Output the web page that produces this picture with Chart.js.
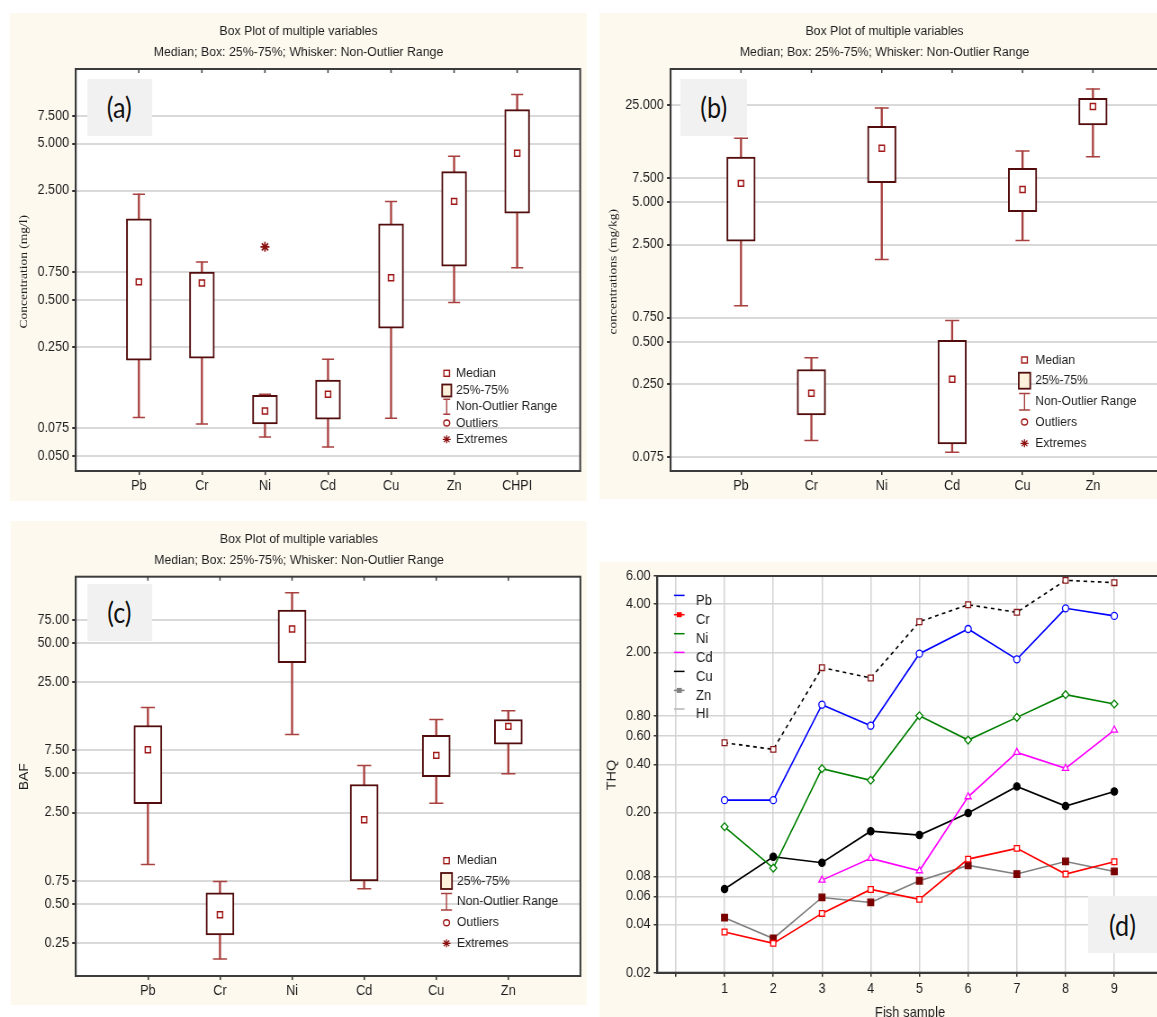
<!DOCTYPE html>
<html><head><meta charset="utf-8"><title>Box plots and THQ</title>
<script src="https://cdn.jsdelivr.net/npm/chart.js"></script>
<style>
html,body{margin:0;padding:0;background:#fff;overflow:hidden;width:1157px;height:1017px;}
#wrap{position:absolute;left:0;top:0;width:1320px;height:1017px;transform:scaleX(0.9);transform-origin:0 0;}
.panel{position:absolute;background:#fdf9ef;}
.tag{position:absolute;background:#f1f1f1;font-family:Lato,"Open Sans",sans-serif;font-size:28px;color:#111;display:flex;align-items:center;justify-content:center;}
canvas{position:absolute;left:0;top:0;}
</style></head>
<body><div id="wrap"></div>
<script>
// ---------------- DATA ----------------
// (a) Concentration (mg/l)
const catsA = ['Pb','Cr','Ni','Cd','Cu','Zn','CHPI'];
const minA  = [0.088, 0.080, 0.066, 0.057, 0.087, 0.48, 0.80];
const q1A   = [0.205, 0.211, 0.080, 0.086, 0.328, 0.82, 1.79];
const medA  = [0.65,  0.64,  0.097, 0.124, 0.69,  2.13, 4.33];
const q3A   = [1.65,  0.75,  0.122, 0.153, 1.53,  3.30, 8.24];
const maxA  = [2.37,  0.87,  0.124, 0.208, 2.13,  4.14, 10.3];
const extA  = [null,  null,  1.09,  null,  null,  null, null];
const ticksA = [0.05, 0.075, 0.25, 0.5, 0.75, 2.5, 5, 7.5];

// (b) concentrations (mg/kg)
const catsB = ['Pb','Cr','Ni','Cd','Cu','Zn'];
const minB  = [0.911, 0.099, 1.95, 0.0817, 2.67, 10.6];
const q1B   = [2.64,  0.151, 6.92, 0.0938, 4.29, 17.9];
const medB  = [6.84,  0.216, 12.2, 0.272,  6.19, 24.3];
const q3B   = [10.55, 0.319, 17.5, 0.515,  8.76, 27.8];
const maxB  = [14.4,  0.387, 23.7, 0.716,  11.65, 32.4];
const extB  = [null, null, null, null, null, null];
const ticksB = [0.075, 0.25, 0.5, 0.75, 2.5, 5, 7.5, 25];

// (c) BAF
const catsC = ['Pb','Cr','Ni','Cd','Cu','Zn'];
const minC  = [1.0,   0.189, 9.92,  0.651, 2.95, 4.95];
const q1C   = [2.92,  0.289, 35.1,  0.75,  4.70, 8.36];
const medC  = [7.57,  0.412, 63.6,  2.2,   6.85, 11.42];
const q3C   = [11.6,  0.607, 88.9,  4.10,  9.74, 12.9];
const maxC  = [15.97, 0.741, 120.8, 5.74,  12.9, 15.06];
const extC  = [null, null, null, null, null, null];
const ticksC = [0.25, 0.5, 0.75, 2.5, 5, 7.5, 25, 50, 75];

// (d) THQ per fish sample
const samples = [1,2,3,4,5,6,7,8,9];
const seriesD = ['Pb','Cr','Ni','Cd','Cu','Zn','HI'];
const thqPb = [0.239, 0.239, 0.943, 0.697, 1.964, 2.80, 1.81, 3.77, 3.38];
const thqCr = [0.0359, 0.0305, 0.0469, 0.0662, 0.0574, 0.1024, 0.1195, 0.0826, 0.0986];
const thqNi = [0.163, 0.090, 0.376, 0.318, 0.805, 0.567, 0.786, 1.089, 0.952];
const thqCd = [null, null, 0.0757, 0.1035, 0.0866, 0.251, 0.475, 0.378, 0.655];
const thqCu = [0.0666, 0.106, 0.0972, 0.153, 0.1447, 0.1986, 0.291, 0.2196, 0.271];
const thqZn = [0.0441, 0.0327, 0.059, 0.0549, 0.075, 0.0935, 0.0826, 0.099, 0.0858];
const thqHI = [0.546, 0.496, 1.606, 1.384, 3.11, 3.97, 3.56, 5.64, 5.45];
const ticksD = [0.02, 0.04, 0.06, 0.08, 0.2, 0.4, 0.6, 0.8, 2, 4, 6];
const xTicksD = [0,1,2,3,4,5,6,7,8,9,10];

const TITLE1 = 'Box Plot of multiple variables';
const TITLE2 = 'Median; Box: 25%-75%; Whisker: Non-Outlier Range';
const BOX_LEGEND = ['Median','25%-75%','Non-Outlier Range','Outliers','Extremes'];

// ---------------- LAYOUT / STYLE ----------------
const SANS = '"Liberation Sans", Arial, Helvetica, sans-serif';
const SERIF = '"Liberation Serif", "Times New Roman", serif';
const TXT = '#1e1e1e';
const BOXC = '#520c0c', WHIS = '#a8403f', MEDC = '#a01818', EXTC = '#8b1010';
const SX = 0.9, CW = 1320, CH = 1017, AXW = 70, XAH = 30;
const ux = v => v / SX;
const wrap = document.getElementById('wrap');

function addDiv(cls, r, text) {
  const d = document.createElement('div');
  d.className = cls;
  d.style.left = ux(r[0]) + 'px'; d.style.top = r[1] + 'px';
  d.style.width = ux(r[2] - r[0]) + 'px'; d.style.height = (r[3] - r[1]) + 'px';
  if (text) d.textContent = text;
  wrap.appendChild(d);
  return d;
}
function makeCanvas() {
  const c = document.createElement('canvas');
  c.width = CW; c.height = CH;
  c.style.width = CW + 'px'; c.style.height = CH + 'px';
  wrap.appendChild(c);
  return c;
}

addDiv('panel', [10, 13, 587, 501]);
addDiv('panel', [599, 13, 1175, 499]);
addDiv('panel', [11, 521, 587, 1005]);
addDiv('panel', [599, 562, 1175, 1017]);

function drawBoxLegend(ctx, L) {
  const mx = ux(L.mx), ys = L.ys;
  ctx.font = `13.5px ${SANS}`; ctx.textAlign = 'left'; ctx.textBaseline = 'middle'; ctx.fillStyle = TXT;
  BOX_LEGEND.forEach((t, i) => ctx.fillText(t, ux(L.tx), ys[i]));
  // median
  ctx.lineWidth = 1.4; ctx.strokeStyle = MEDC;
  ctx.strokeRect(mx - ux(2.8), ys[0] - 3, ux(5.6), 6);
  // box
  const bw = ux(L.bw), bh = L.bh;
  ctx.fillStyle = '#fdf1dc'; ctx.fillRect(mx - bw / 2, ys[1] - bh / 2, bw, bh);
  ctx.strokeStyle = BOXC; ctx.lineWidth = 1.8; ctx.strokeRect(mx - bw / 2, ys[1] - bh / 2, bw, bh);
  // whisker
  const wh = L.wh, cw = ux(L.cw);
  ctx.strokeStyle = WHIS; ctx.lineWidth = 1.4; ctx.beginPath();
  ctx.moveTo(mx, ys[2] - wh / 2); ctx.lineTo(mx, ys[2] + wh / 2);
  ctx.moveTo(mx - cw / 2, ys[2] - wh / 2); ctx.lineTo(mx + cw / 2, ys[2] - wh / 2);
  ctx.moveTo(mx - cw / 2, ys[2] + wh / 2); ctx.lineTo(mx + cw / 2, ys[2] + wh / 2);
  ctx.stroke();
  // outlier
  ctx.strokeStyle = MEDC; ctx.beginPath(); ctx.ellipse(mx, ys[3], ux(3), 3, 0, 0, Math.PI * 2); ctx.stroke();
  // extreme
  ctx.strokeStyle = EXTC; ctx.lineWidth = 1.3; ctx.beginPath();
  for (let k = 0; k < 4; k++) {
    const a = k * Math.PI / 4, dx = Math.cos(a) * ux(4), dy = Math.sin(a) * 4;
    ctx.moveTo(mx - dx, ys[4] - dy); ctx.lineTo(mx + dx, ys[4] + dy);
  }
  ctx.stroke();
}

function boxPanelPlugin(P) {
  return {
    id: 'boxPanel',
    beforeDraw(chart) {
      const {ctx, chartArea: a} = chart;
      ctx.save(); ctx.fillStyle = '#fff'; ctx.fillRect(a.left, a.top, a.width, a.height); ctx.restore();
    },
    afterDraw(chart) {
      const {ctx, chartArea: a, scales} = chart;
      ctx.save();
      ctx.strokeStyle = '#3c3c3c'; ctx.lineWidth = 2;
      ctx.strokeRect(a.left, a.top, a.width, a.height);
      ctx.lineWidth = 1.5;
      P.cats.forEach((_, i) => {
        const x = scales.x.getPixelForValue(i + 1);
        ctx.beginPath(); ctx.moveTo(x, a.top); ctx.lineTo(x, a.top + 4); ctx.stroke();
      });
      ctx.fillStyle = TXT; ctx.font = `13.7px ${SANS}`; ctx.textAlign = 'center'; ctx.textBaseline = 'middle';
      ctx.fillText(TITLE1, ux(P.titleX), P.titleY[0]);
      ctx.fillText(TITLE2, ux(P.titleX), P.titleY[1]);
      ctx.save();
      ctx.translate(ux(P.yTitleX), P.yTitleY); ctx.rotate(-Math.PI / 2);
      ctx.font = P.yTitleFont; ctx.fillText(P.yTitle, 0, 0);
      ctx.restore();
      drawBoxLegend(ctx, P.legend);
      ctx.restore();
    }
  };
}

function boxPlot(P) {
  const n = P.cats.length, pos = P.cats.map((_, i) => i + 1);
  const boxData = pos.map((x, i) => ({x, y: [P.q1[i], P.q3[i]]}));
  const whiskData = pos.map((x, i) => ({x, y: [P.min[i], P.max[i]]}));
  const capData = pos.flatMap((x, i) => [{x, y: P.min[i]}, {x, y: P.max[i]}]);
  const medData = pos.map((x, i) => ({x, y: P.med[i]}));
  const extData = pos.map((x, i) => P.ext[i] == null ? null : {x, y: P.ext[i]}).filter(Boolean);
  new Chart(makeCanvas(), {
    type: 'bar',
    data: {datasets: [
      {type: 'scatter', label: 'Median', data: medData, pointStyle: 'rect', pointRadius: 4.2, pointHoverRadius: 4.2,
       pointBorderColor: MEDC, pointBackgroundColor: '#fff', pointBorderWidth: 1.5, order: 0},
      {type: 'scatter', label: 'Extremes', data: extData, pointStyle: 'star', pointRadius: 5, pointHoverRadius: 5,
       pointBorderColor: EXTC, pointBackgroundColor: EXTC, pointBorderWidth: 1.7, order: 0},
      {label: '25%-75%', data: boxData, backgroundColor: '#fff', borderColor: BOXC, borderWidth: 2,
       borderSkipped: false, barThickness: ux(P.boxW), grouped: false, order: 1},
      {label: 'Non-Outlier Range', data: whiskData, backgroundColor: WHIS, borderWidth: 0,
       barThickness: ux(1.5), grouped: false, order: 2},
      {type: 'scatter', label: 'caps', data: capData, pointStyle: 'line', pointRadius: ux(P.capW / 2),
       pointHoverRadius: ux(P.capW / 2), pointBorderColor: WHIS, pointBorderWidth: 1.5, order: 2}
    ]},
    options: {
      responsive: false, animation: false, devicePixelRatio: 1, events: [],
      layout: {padding: {left: ux(P.L) - AXW, right: CW - ux(P.R), top: P.T, bottom: CH - P.B - XAH}},
      plugins: {legend: {display: false}, tooltip: {enabled: false}, title: {display: false}},
      scales: {
        x: {type: 'linear', min: 0, max: n + 1, offset: false,
            afterBuildTicks: s => { s.ticks = pos.map(v => ({value: v})); },
            afterFit: s => { s.height = XAH; },
            ticks: {callback: v => P.cats[Math.round(v) - 1] ?? '', autoSkip: false, maxRotation: 0, padding: 3,
                    color: TXT, font: {family: SANS, size: 14}},
            grid: {offset: false, drawOnChartArea: false, drawTicks: true, tickLength: 4, color: '#333', lineWidth: 1.5},
            border: {color: '#333', width: 2}},
        y: {type: 'logarithmic', min: P.yMin, max: P.yMax,
            afterBuildTicks: s => { s.ticks = P.ticks.map(v => ({value: v})); },
            afterFit: s => { s.width = AXW; },
            ticks: {callback: v => Number(v).toFixed(P.dec), autoSkip: false, padding: 3.5,
                    color: TXT, font: {family: SANS, size: 14}},
            grid: {color: '#d9d9d9', lineWidth: 2, drawTicks: true, tickLength: 4, tickColor: '#333'},
            border: {color: '#333', width: 2}}
      }
    },
    plugins: [boxPanelPlugin(P)]
  });
}

boxPlot({cats: catsA, min: minA, q1: q1A, med: medA, q3: q3A, max: maxA, ext: extA, ticks: ticksA, dec: 3,
  yMin: 0.04, yMax: 15, L: 75.8, R: 580.2, T: 69, B: 471, boxW: 25, capW: 12,
  titleX: 298.5, titleY: [31.7, 52.3], yTitle: 'Concentration (mg/l)', yTitleFont: `13.5px ${SERIF}`, yTitleX: 24, yTitleY: 271.7,
  legend: {mx: 446.7, tx: 456, ys: [373.3, 390.5, 406.7, 423, 439.3], bw: 9.2, bh: 12, wh: 15, cw: 7}});

boxPlot({cats: catsB, min: minB, q1: q1B, med: medB, q3: q3B, max: maxB, ext: extB, ticks: ticksB, dec: 3,
  yMin: 0.06, yMax: 45, L: 670.6, R: 1163.3, T: 69, B: 471, boxW: 28.5, capW: 14,
  titleX: 884.5, titleY: [31.7, 52.3], yTitle: 'concentrations (mg/kg)', yTitleFont: `13.5px ${SERIF}`, yTitleX: 613, yTitleY: 271.7,
  legend: {mx: 1024.5, tx: 1035.2, ys: [360, 380.7, 401.7, 422, 443.3], bw: 11.5, bh: 16, wh: 16.5, cw: 11}});

boxPlot({cats: catsC, min: minC, q1: q1C, med: medC, q3: q3C, max: maxC, ext: extC, ticks: ticksC, dec: 2,
  yMin: 0.14, yMax: 160, L: 75.8, R: 580.4, T: 576.7, B: 976, boxW: 28, capW: 14,
  titleX: 299, titleY: [539.3, 560.3], yTitle: 'BAF', yTitleFont: `14px ${SANS}`, yTitleX: 24, yTitleY: 776.7,
  legend: {mx: 446.5, tx: 456.9, ys: [860.7, 881, 901.7, 922.7, 943.3], bw: 11, bh: 16, wh: 16.5, cw: 11}});

// ---------------- (d) THQ line chart ----------------
const valsD = [thqPb, thqCr, thqNi, thqCd, thqCu, thqZn, thqHI];
const styleD = [
  {c: '#0000ff', ps: 'circle',   r: 3.5, pc: '#0000ff', pb: '#ffffff'},
  {c: '#ff0000', ps: 'rect',     r: 4.0, pc: '#ff0000', pb: '#ffffff'},
  {c: '#008000', ps: 'rectRot',  r: 3.9, pc: '#008000', pb: '#ffffff'},
  {c: '#ff00ff', ps: 'triangle', r: 4.0, pc: '#ff00ff', pb: '#ffffff'},
  {c: '#000000', ps: 'circle',   r: 3.6, pc: '#000000', pb: '#000000'},
  {c: '#808080', ps: 'rect',     r: 4.6, pc: '#7a0000', pb: '#7a0000'},
  {c: '#000000', ps: 'rect',     r: 4.0, pc: '#8b1a1a', pb: '#ffffff', dash: [4, 4]}
];
const legendD = {lineX: [674, 684.5], tx: 696, ys: [600.7, 620, 639, 657.7, 676.7, 695.7, 714.3],
  colors: ['#0000ff', '#ff0000', '#008000', '#ff00ff', '#000000', '#808080', '#b4b4b4'],
  marks: [null, '#ff0000', null, null, null, '#808080', null]};
const LD = {L: 657.3, R: 1181.5, T: 576, B: 972.7};

const panelD = {
  id: 'panelD',
  beforeDraw(chart) {
    const {ctx, chartArea: a} = chart;
    ctx.save(); ctx.fillStyle = '#fff'; ctx.fillRect(a.left, a.top, a.width, a.height); ctx.restore();
  },
  afterDraw(chart) {
    const {ctx, chartArea: a} = chart;
    ctx.save();
    ctx.strokeStyle = '#3c3c3c'; ctx.lineWidth = 2; ctx.strokeRect(a.left, a.top, a.width, a.height);
    ctx.fillStyle = TXT; ctx.textBaseline = 'middle'; ctx.textAlign = 'center'; ctx.font = `14.5px ${SANS}`;
    ctx.save(); ctx.translate(ux(612.4), 775); ctx.rotate(-Math.PI / 2); ctx.fillText('THQ', 0, 0); ctx.restore();
    ctx.fillText('Fish sample', ux(910), 1013);
    // legend
    ctx.textAlign = 'left';
    seriesD.forEach((nm, i) => {
      const y = legendD.ys[i];
      ctx.fillStyle = TXT; ctx.fillText(nm, ux(legendD.tx), y);
      ctx.strokeStyle = legendD.colors[i]; ctx.lineWidth = 1.5;
      ctx.beginPath(); ctx.moveTo(ux(legendD.lineX[0]), y - 5.3); ctx.lineTo(ux(legendD.lineX[1]), y - 5.3); ctx.stroke();
      if (legendD.marks[i]) {
        const cx = ux((legendD.lineX[0] + legendD.lineX[1]) / 2);
        ctx.fillStyle = legendD.marks[i]; ctx.fillRect(cx - ux(2.5), y - 5.3 - 2.5, ux(5), 5);
      }
    });
    ctx.restore();
  }
};

new Chart(makeCanvas(), {
  type: 'scatter',
  data: {datasets: seriesD.map((nm, k) => ({
    label: nm, data: samples.map((s, i) => ({x: s, y: valsD[k][i]})), showLine: true, spanGaps: false,
    borderColor: styleD[k].c, backgroundColor: styleD[k].c, borderWidth: 1.6, borderDash: styleD[k].dash || [],
    pointStyle: styleD[k].ps, pointRadius: styleD[k].r, pointHoverRadius: styleD[k].r,
    pointBorderColor: styleD[k].pc, pointBackgroundColor: styleD[k].pb, pointBorderWidth: 1.3
  }))},
  options: {
    responsive: false, animation: false, devicePixelRatio: 1, events: [],
    layout: {padding: {left: ux(LD.L) - AXW, right: CW - ux(LD.R), top: LD.T, bottom: CH - LD.B - XAH}},
    plugins: {legend: {display: false}, tooltip: {enabled: false}},
    scales: {
      x: {type: 'linear', min: -0.38, max: 10.38, offset: false,
          afterBuildTicks: s => { s.ticks = xTicksD.map(v => ({value: v})); },
          afterFit: s => { s.height = XAH; },
          ticks: {callback: v => (v >= 1 && v <= 9) ? String(v) : '', autoSkip: false, maxRotation: 0, padding: 4,
                  color: TXT, font: {family: SANS, size: 14}},
          grid: {color: '#d4d4d4', lineWidth: 1.5, drawTicks: true, tickLength: 4, tickColor: '#333'},
          border: {color: '#333', width: 2}},
      y: {type: 'logarithmic', min: 0.02, max: 6,
          afterBuildTicks: s => { s.ticks = ticksD.map(v => ({value: v})); },
          afterFit: s => { s.width = AXW; },
          ticks: {callback: v => Number(v).toFixed(2), autoSkip: false, padding: 3.5,
                  color: TXT, font: {family: SANS, size: 14}},
          grid: {color: '#d4d4d4', lineWidth: 1.5, drawTicks: true, tickLength: 4, tickColor: '#333'},
          border: {color: '#333', width: 2}}
    }
  },
  plugins: [panelD]
});

// panel tags (drawn above the plot areas)
addDiv('tag', [87, 79, 151.7, 135.7], '(a)');
addDiv('tag', [680.8, 79, 746.7, 135.7], '(b)');
addDiv('tag', [87, 584, 151.7, 640.7], '(c)');
addDiv('tag', [1088, 896, 1157, 953], '(d)');
</script>
</body></html>
